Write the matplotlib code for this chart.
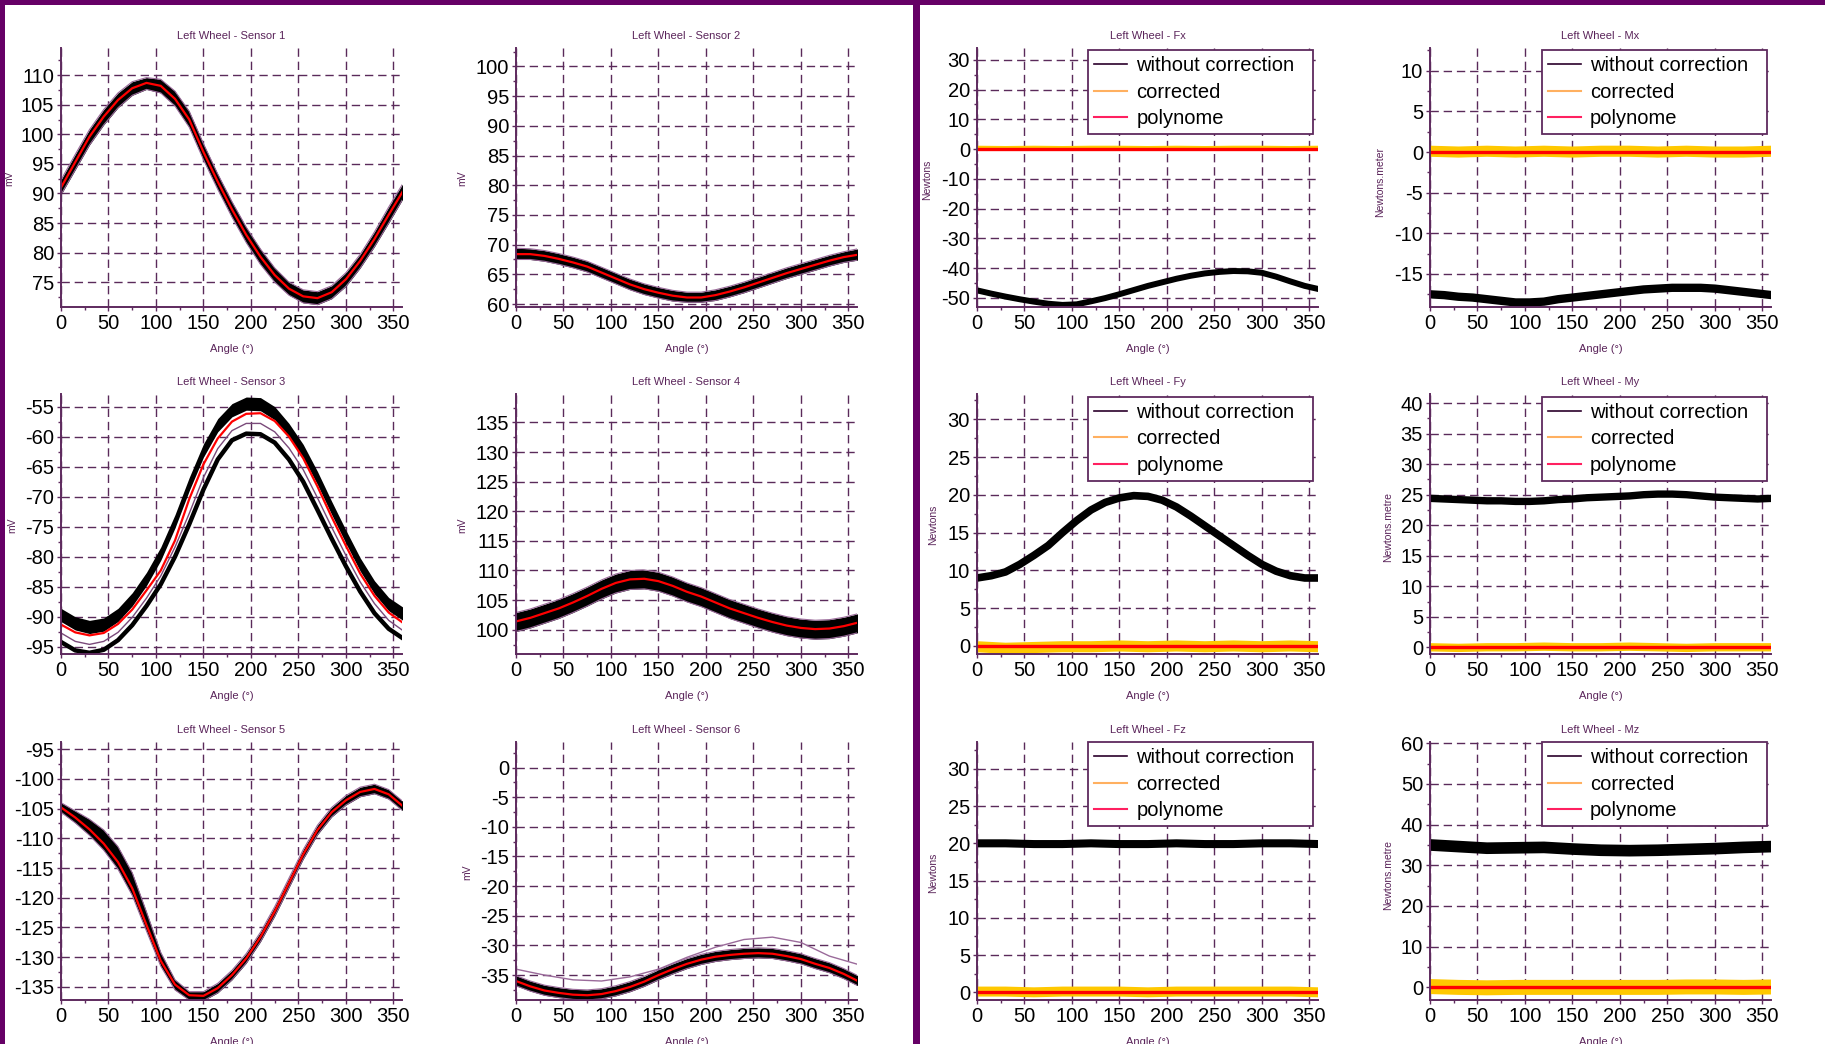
import matplotlib

matplotlib.use("Agg")
import matplotlib.pyplot as plt
from matplotlib.lines import Line2D
from matplotlib.patches import Rectangle
from matplotlib.ticker import MultipleLocator

W, H = 1825, 1044
BORDER = "#660066"
AXIS_C = "#5e2a5e"
GRID_C = "#5a2a5a"
TEXT_C = "#5a245a"
BAND_EDGE = "#9a6a9a"

plt.rcParams["font.family"] = ["Liberation Sans", "DejaVu Sans"]
plt.rcParams["axes.unicode_minus"] = False

# sample angles (deg)
ANGLE = [0, 15, 30, 45, 60, 75, 90, 105, 120, 135, 150, 165, 180,
         195, 210, 225, 240, 255, 270, 285, 300, 315, 330, 345, 360]
ANGLE_30 = [0, 30, 60, 90, 120, 150, 180, 210, 240, 270, 300, 330, 360]

# --- sensors (mV): envelope of raw runs + fitted polynome ---
s1_hi = [92.3, 96.6, 100.8, 104.2, 107.0, 108.9, 109.6, 109.3, 107.3, 103.9, 98.4, 93.3, 88.6,
         84.3, 80.6, 77.4, 75.0, 73.7, 73.4, 74.4, 76.6, 79.7, 83.5, 87.7, 91.7]
s1_lo = [89.8, 94.0, 98.2, 101.6, 104.5, 106.6, 107.6, 107.0, 104.8, 101.2, 95.7, 90.7, 86.0,
         81.7, 78.0, 75.0, 72.8, 71.5, 71.2, 72.2, 74.3, 77.4, 81.0, 85.0, 89.1]
s1_poly = [91.0, 95.3, 99.6, 103.0, 105.8, 107.8, 108.7, 108.2, 106.0, 102.5, 97.0, 92.0, 87.3,
           83.0, 79.3, 76.2, 73.9, 72.6, 72.3, 73.3, 75.5, 78.6, 82.3, 86.4, 90.4]

s2_hi = [69.4, 69.3, 69.0, 68.5, 67.9, 67.2, 66.2, 65.2, 64.2, 63.4, 62.8, 62.3, 62.0,
         62.0, 62.4, 63.0, 63.7, 64.5, 65.3, 66.1, 66.8, 67.5, 68.2, 68.8, 69.3]
s2_lo = [67.5, 67.5, 67.2, 66.7, 66.1, 65.4, 64.4, 63.4, 62.4, 61.6, 61.0, 60.5, 60.3,
         60.3, 60.6, 61.2, 61.9, 62.7, 63.5, 64.3, 65.0, 65.7, 66.4, 67.0, 67.4]
s2_poly = [68.4, 68.4, 68.1, 67.6, 67.0, 66.3, 65.3, 64.3, 63.3, 62.5, 61.9, 61.4, 61.1,
           61.1, 61.5, 62.1, 62.8, 63.6, 64.4, 65.2, 65.9, 66.6, 67.3, 67.9, 68.3]

s3_hi = [-88.6, -90.0, -90.6, -90.2, -88.6, -86.0, -82.6, -78.4, -73.0, -66.8, -61.2, -57.0, -54.5,
         -53.4, -53.5, -55.0, -57.8, -61.3, -65.8, -70.8, -75.6, -80.2, -84.0, -86.8, -88.4]
s3_lo = [-90.8, -92.2, -92.8, -92.4, -90.8, -88.2, -84.8, -80.6, -75.2, -69.0, -63.4, -59.2, -56.7,
         -55.6, -55.7, -57.2, -60.0, -63.5, -68.0, -73.0, -77.8, -82.4, -86.2, -89.0, -90.6]
s3_mid = [-92.7, -94.1, -94.6, -94.1, -92.6, -90.1, -86.9, -83.2, -78.4, -72.8, -66.8, -62.0, -59.0,
          -57.8, -57.8, -59.2, -61.9, -65.5, -70.2, -75.1, -79.8, -84.2, -87.8, -90.6, -92.3]
s3_low_run = [-94.2, -95.6, -96.0, -95.5, -93.9, -91.4, -88.2, -84.6, -80.0, -74.6, -68.8, -63.8, -60.6,
              -59.5, -59.6, -61.0, -63.8, -67.5, -72.2, -77.0, -81.6, -85.8, -89.4, -92.0, -93.6]
s3_poly = [-91.3, -92.6, -93.1, -92.7, -91.2, -88.8, -85.6, -82.3, -77.3, -70.4, -64.6, -60.3, -57.5,
           -56.2, -56.1, -57.4, -60.0, -63.6, -68.3, -73.4, -78.2, -82.8, -86.5, -89.3, -91.0]

s4_hi = [102.9, 103.5, 104.3, 105.1, 106.1, 107.2, 108.4, 109.4, 110.0, 110.1, 109.7, 108.9, 107.9,
         107.1, 106.1, 105.1, 104.3, 103.5, 102.8, 102.2, 101.8, 101.6, 101.7, 102.1, 102.7]
s4_lo = [99.7, 100.3, 101.1, 101.9, 102.9, 104.0, 105.2, 106.2, 106.8, 106.9, 106.5, 105.7, 104.7,
         103.9, 102.9, 101.9, 101.1, 100.3, 99.6, 99.0, 98.6, 98.4, 98.5, 98.9, 99.5]
s4_poly = [101.4, 102.0, 102.8, 103.6, 104.6, 105.7, 106.9, 107.9, 108.5, 108.6, 108.2, 107.4, 106.4,
           105.6, 104.6, 103.6, 102.8, 102.0, 101.3, 100.7, 100.3, 100.1, 100.2, 100.6, 101.2]

s5_hi = [-104.0, -105.4, -106.8, -108.6, -111.4, -115.8, -122.4, -129.2, -133.8, -135.8, -135.8, -134.4, -132.2,
         -129.4, -125.8, -121.5, -116.7, -111.9, -107.8, -104.8, -102.8, -101.4, -100.9, -101.8, -103.8]
s5_lo = [-105.6, -107.4, -109.5, -112.0, -115.2, -119.6, -125.6, -131.5, -135.5, -137.2, -137.3, -136.0, -133.8,
         -131.0, -127.4, -123.1, -118.3, -113.5, -109.4, -106.4, -104.4, -103.0, -102.5, -103.4, -105.4]
s5_poly = [-104.8, -106.5, -108.5, -110.9, -114.0, -118.4, -124.6, -130.6, -134.6, -136.4, -136.5, -135.2, -133.0,
           -130.2, -126.6, -122.3, -117.5, -112.7, -108.6, -105.6, -103.6, -102.2, -101.7, -102.6, -104.6]

s6_hi = [-35.1, -36.0, -36.7, -37.1, -37.4, -37.5, -37.3, -36.8, -36.1, -35.2, -34.1, -33.1, -32.2,
         -31.5, -31.0, -30.7, -30.5, -30.4, -30.5, -30.9, -31.4, -32.2, -32.9, -33.9, -35.1]
s6_lo = [-36.8, -37.7, -38.4, -38.8, -39.1, -39.2, -39.0, -38.5, -37.8, -36.9, -35.8, -34.8, -33.9,
         -33.2, -32.7, -32.4, -32.2, -32.1, -32.2, -32.6, -33.1, -33.9, -34.6, -35.6, -36.8]
s6_poly = [-36.0, -36.9, -37.6, -38.0, -38.3, -38.4, -38.2, -37.7, -37.0, -36.1, -35.0, -34.0, -33.1,
           -32.4, -31.9, -31.6, -31.4, -31.3, -31.4, -31.8, -32.3, -33.1, -33.8, -34.8, -36.0]
s6_stray = [-34.0, -35.0, -35.8, -36.0, -35.3, -34.0, -32.0, -30.3, -29.0, -28.6, -29.5, -31.8, -33.2]

# --- forces / moments: raw, corrected, polynome ---
fx_raw = [-47.5, -48.6, -49.6, -50.5, -51.3, -52.0, -52.4, -52.2, -51.2, -50.1, -48.8, -47.4, -46.0,
          -44.8, -43.6, -42.6, -41.8, -41.3, -41.0, -41.1, -41.6, -42.9, -44.5, -46.0, -47.1]
mx_raw = [-17.5, -17.6, -17.8, -17.9, -18.1, -18.3, -18.5, -18.5, -18.4, -18.1, -17.9, -17.7, -17.5,
          -17.3, -17.1, -16.9, -16.8, -16.7, -16.7, -16.7, -16.8, -17.0, -17.2, -17.4, -17.6]
fy_raw = [9.0, 9.3, 9.8, 10.8, 12.0, 13.3, 15.0, 16.6, 18.0, 19.0, 19.6, 19.9, 19.8,
          19.3, 18.4, 17.2, 15.9, 14.6, 13.3, 12.0, 10.8, 9.9, 9.3, 9.0, 9.0]
my_raw = [24.4, 24.3, 24.2, 24.1, 24.0, 24.0, 23.9, 23.9, 24.0, 24.2, 24.3, 24.5, 24.6,
          24.7, 24.8, 25.0, 25.1, 25.1, 25.0, 24.8, 24.6, 24.5, 24.4, 24.3, 24.4]
fz_raw = [20.0, 20.0, 19.9, 19.9, 20.0, 19.9, 19.9, 20.0, 19.9, 19.9, 20.0, 20.0, 19.9]
mz_raw = [35.0, 34.6, 34.2, 34.3, 34.4, 34.0, 33.7, 33.6, 33.7, 33.9, 34.1, 34.4, 34.6]

fx_corr = [0.3, 0.2, 0.3, 0.2, 0.3, 0.3, 0.2, 0.3, 0.2, 0.3, 0.3, 0.2, 0.3]
mx_corr = [0.1, 0.0, 0.1, 0.0, 0.1, 0.0, 0.1, 0.1, 0.0, 0.1, 0.0, 0.0, 0.1]
fy_corr = [-0.1, -0.3, -0.2, -0.1, -0.1, 0.0, -0.1, 0.0, -0.1, 0.0, -0.1, 0.0, -0.1]
my_corr = [0.0, -0.1, 0.0, 0.0, 0.1, 0.0, 0.0, 0.1, 0.0, -0.1, 0.0, 0.0, 0.0]
fz_corr = [0.1, 0.1, 0.0, 0.1, 0.1, 0.1, 0.0, 0.1, 0.1, 0.1, 0.1, 0.1, 0.0]
mz_corr = [0.2, 0.0, -0.1, 0.0, 0.0, 0.0, 0.0, 0.0, 0.0, 0.1, 0.1, 0.0, 0.1]
poly_zero = [0.0, 0.0, 0.0, 0.0, 0.0, 0.0, 0.0, 0.0, 0.0, 0.0, 0.0, 0.0, 0.0]

LEGEND_LABELS = ["without correction", "corrected", "polynome"]

COL_LEFT = [61, 516, 977, 1430]
ROW_SPAN = [(48, 307), (394, 654), (742, 1000)]
AX_W = 341


def _axes(fig, col, row):
    top, bottom = ROW_SPAN[row]
    return fig.add_axes([COL_LEFT[col] / W, 1 - bottom / H, AX_W / W, (bottom - top) / H])


def _style(ax, title, ylim, ystep):
    ax.set_xlim(0, 359)
    ax.set_ylim(*ylim)
    ax.xaxis.set_major_locator(MultipleLocator(50))
    ax.xaxis.set_minor_locator(MultipleLocator(25))
    ax.yaxis.set_major_locator(MultipleLocator(ystep))
    ax.yaxis.set_minor_locator(MultipleLocator(ystep / 2))
    ax.set_axisbelow(True)
    ax.grid(True, which="major", color=GRID_C, linestyle=(0, (6, 3.5)), linewidth=1.0)
    for side in ("top", "right"):
        ax.spines[side].set_visible(False)
    for side in ("left", "bottom"):
        ax.spines[side].set_color(AXIS_C)
        ax.spines[side].set_linewidth(1.4)
    ax.tick_params(which="major", direction="out", length=3, width=1, color=AXIS_C,
                   labelsize=14.5, labelcolor="black", pad=2)
    ax.tick_params(which="minor", direction="out", length=2.5, width=1, color=AXIS_C)
    ax.set_title(title, fontsize=8, color=TEXT_C, pad=6.5)
    ax.set_xlabel("Angle (°)", fontsize=8, color=TEXT_C, labelpad=8)


def _sensor(ax, hi, lo, poly):
    ax.fill_between(ANGLE, lo, hi, color="black", lw=0)
    ax.plot(ANGLE, hi, color=BAND_EDGE, lw=0.8)
    ax.plot(ANGLE, lo, color=BAND_EDGE, lw=0.8)
    ax.plot(ANGLE, poly, color="#ff0000", lw=1.6)


def _force(ax, raw_x, raw, raw_lw, corr, corr_lw, legend_x, legend_top):
    ax.plot(raw_x, raw, color="black", lw=raw_lw, solid_capstyle="butt")
    ax.plot(ANGLE_30, corr, color="#ffc800", lw=corr_lw, solid_capstyle="butt")
    ax.plot(ANGLE_30, poly_zero, color="#ff0000", lw=2.4, solid_capstyle="butt")
    handles = [
        Line2D([], [], color="#2b002b", lw=1.2),
        Line2D([], [], color="#ffb060", lw=1.5),
        Line2D([], [], color="#ff2060", lw=1.5),
    ]
    leg = ax.legend(handles, LEGEND_LABELS, loc="upper left",
                    bbox_to_anchor=(legend_x, 0.6, 0.66, legend_top - 0.6), mode="expand",
                    borderaxespad=0, fontsize=14.5, frameon=True, fancybox=False,
                    framealpha=1, edgecolor=AXIS_C, handlelength=1.65, handletextpad=0.45,
                    labelspacing=0.38, borderpad=0.3)
    leg.get_frame().set_linewidth(1.3)


def _ylabel(fig, x, y, text):
    fig.text(x / W, 1 - y / H, text, rotation=90, ha="center", va="center",
             fontsize=7.5, color=TEXT_C)


fig = plt.figure(figsize=(W / 100, H / 100), dpi=100)
fig.patch.set_facecolor("white")

# left half: sensors
ax = _axes(fig, 0, 0)
_sensor(ax, s1_hi, s1_lo, s1_poly)
_style(ax, "Left Wheel - Sensor 1", (70.8, 114.6), 5)

ax = _axes(fig, 1, 0)
_sensor(ax, s2_hi, s2_lo, s2_poly)
_style(ax, "Left Wheel - Sensor 2", (59.5, 103.1), 5)

ax = _axes(fig, 0, 1)
ax.fill_between(ANGLE, s3_lo, s3_hi, color="black", lw=0)
ax.plot(ANGLE, s3_mid, color="#7a4a7a", lw=1.0)
ax.plot(ANGLE, s3_low_run, color="black", lw=3.2)
ax.plot(ANGLE, s3_poly, color="#ff0000", lw=1.6)
_style(ax, "Left Wheel - Sensor 3", (-96.2, -52.9), 5)

ax = _axes(fig, 1, 1)
_sensor(ax, s4_hi, s4_lo, s4_poly)
_style(ax, "Left Wheel - Sensor 4", (95.9, 139.8), 5)

ax = _axes(fig, 0, 2)
_sensor(ax, s5_hi, s5_lo, s5_poly)
_style(ax, "Left Wheel - Sensor 5", (-137.2, -93.8), 5)

ax = _axes(fig, 1, 2)
ax.plot(ANGLE_30, s6_stray, color="#9a6a9a", lw=1.0)
_sensor(ax, s6_hi, s6_lo, s6_poly)
_style(ax, "Left Wheel - Sensor 6", (-39.2, 4.3), 5)

# right half: forces and moments
ax = _axes(fig, 2, 0)
_force(ax, ANGLE, fx_raw, 4.3, fx_corr, 3.6, 0.326, 0.992)
_style(ax, "Left Wheel - Fx", (-53.1, 34.0), 10)

ax = _axes(fig, 3, 0)
_force(ax, ANGLE, mx_raw, 6.0, mx_corr, 8.0, 0.328, 0.992)
_style(ax, "Left Wheel - Mx", (-19.06, 12.8), 5)

ax = _axes(fig, 2, 1)
_force(ax, ANGLE, fy_raw, 5.5, fy_corr, 8.0, 0.326, 0.99)
_style(ax, "Left Wheel - Fy", (-1.06, 33.35), 5)

ax = _axes(fig, 3, 1)
_force(ax, ANGLE, my_raw, 5.3, my_corr, 6.0, 0.328, 0.99)
_style(ax, "Left Wheel - My", (-1.1, 41.5), 5)

ax = _axes(fig, 2, 2)
_force(ax, ANGLE_30, fz_raw, 5.8, fz_corr, 7.2, 0.326, 1.0)
_style(ax, "Left Wheel - Fz", (-1.03, 33.6), 5)

ax = _axes(fig, 3, 2)
_force(ax, ANGLE_30, mz_raw, 8.4, mz_corr, 10.8, 0.328, 1.0)
_style(ax, "Left Wheel - Mz", (-3.1, 60.3), 10)

# rotated unit labels
_ylabel(fig, 9, 178, "mV")
_ylabel(fig, 462, 178, "mV")
_ylabel(fig, 927, 180, "Newtons")
_ylabel(fig, 1380, 182, "Newtons.meter")
_ylabel(fig, 12, 525, "mV")
_ylabel(fig, 462, 525, "mV")
_ylabel(fig, 933, 525, "Newtons")
_ylabel(fig, 1388, 527, "Newtons.metre")
_ylabel(fig, 467, 872, "mV")
_ylabel(fig, 933, 873, "Newtons")
_ylabel(fig, 1388, 875, "Newtons.metre")

# purple frame and divider
for x0, y0, w, h in [(0, 0, W, 5), (0, 0, 5, H), (913, 0, 7, H)]:
    fig.add_artist(Rectangle((x0 / W, 1 - (y0 + h) / H), w / W, h / H,
                             transform=fig.transFigure, color=BORDER, lw=0))

fig.savefig("out.png", dpi=100, facecolor="white")
